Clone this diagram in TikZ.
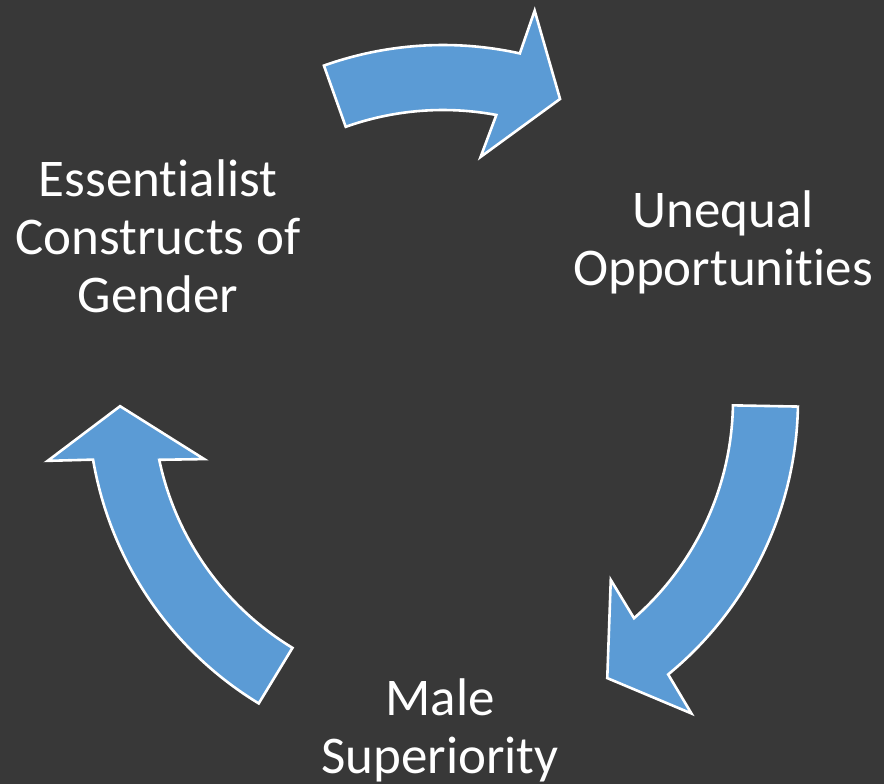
\documentclass[tikz,border=0pt]{standalone}
\usepackage{fontspec}
\setmainfont[Ligatures=NoCommon, Contextuals=NoAlternate]{Carlito}
\usetikzlibrary{calc}
\definecolor{bgdark}{HTML}{383838}
\definecolor{arrowblue}{HTML}{5B9BD5}
\tikzset{
  arrowbody/.style={fill=arrowblue, draw=white, line width=2.6pt, line join=miter},
  steplabel/.style={text=white, align=center, font=\fontsize{53}{58}\selectfont, inner sep=0pt}
}
% Curved block arrow around the centre (c):
% #1 tail angle, #2/#3 outer/inner angle at the head base,
% #4 outer barb, #5 tip, #6 inner barb
\newcommand\circarrow[6]{%
  \path[arrowbody]
    ($(c)+(#1:355)$) arc[start angle=#1, end angle=#2, radius=355]
    -- ($(c)+(#4:400)$) -- ($(c)+(#5:323)$) -- ($(c)+(#6:246)$)
    -- ($(c)+(#3:290)$) arc[start angle=#3, end angle=#1, radius=290]
    -- cycle;}
\begin{document}
\begin{tikzpicture}[x=1pt, y=-1pt]
  \fill[bgdark] (0,0) rectangle (884,784);
  \useasboundingbox (0,0) rectangle (884,784);
  \coordinate (c) at (443,400);

  \circarrow{-109.6}{-77.5}{-79.4}{-76.75}{-68.75}{-81.2}
  \circarrow{1.06}{50.63}{48.8}{51.6}{59.43}{47.0}
  \circarrow{121.27}{170.33}{168.1}{171.25}{178.9}{166.1}

  \node[steplabel] (essent) at (158,236) {Essentialist\\Constructs of\\Gender};
  \node[steplabel] (unequal) at (723,242) {Unequal\\Opportunities};
  \node[steplabel] (male) at (440,730) {Male\\Superiority};
\end{tikzpicture}
\end{document}
